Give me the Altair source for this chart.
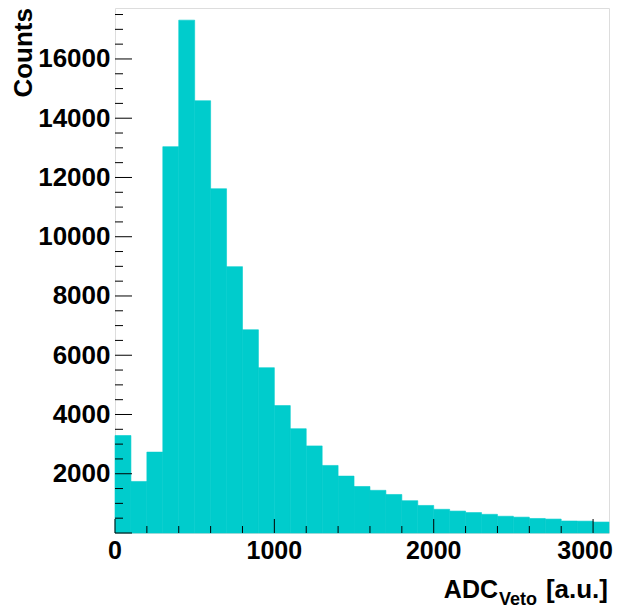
import altair as alt
import pandas as pd

# Histogram contents (bin width 100, ADC 0..3100)
bin_edges = list(range(0, 3200, 100))
counts = [3290, 1740, 2730, 13040, 17310, 14590, 11620, 8990, 6860, 5580,
          4300, 3520, 2940, 2280, 1920, 1570, 1440, 1300, 1090, 930,
          800, 740, 690, 630, 565, 535, 490, 470, 405, 400, 370]

x_labels = [0, 1000, 2000, 3000]
y_labels = [2000, 4000, 6000, 8000, 10000, 12000, 14000, 16000]
x_minor = [v for v in range(200, 3100, 200) if v % 1000 != 0]
y_minor = [v for v in range(500, 17600, 500) if v % 2000 != 0]

W, H = 494, 525
XDOM = [0, 3100]
YDOM = [0, 17720]
FONT = "Liberation Sans"
CYAN = "#00CCCC"

df = pd.DataFrame({"lo": bin_edges[:-1], "hi": bin_edges[1:], "n": counts})

xs = alt.Scale(domain=XDOM, nice=False, zero=False)
ys = alt.Scale(domain=YDOM, nice=False, zero=False)

bars = alt.Chart(df).mark_rect(color=CYAN, stroke=CYAN, strokeWidth=0.6).encode(
    x=alt.X("lo:Q", scale=xs, axis=None),
    x2="hi:Q",
    y=alt.Y("n:Q", scale=ys,
            axis=alt.Axis(values=y_labels, ticks=False, domain=False, grid=False,
                          format="d",
                          labelFont=FONT, labelFontWeight="bold", labelFontSize=26,
                          labelColor="black", labelPadding=5, labelFlush=False,
                          title=None)),
    y2=alt.datum(0),
)

def yticks(vals, length):
    return alt.Chart(pd.DataFrame({"v": vals})).mark_rule(color="black", strokeWidth=1).encode(
        y=alt.Y("v:Q", scale=ys), x=alt.value(0), x2=alt.value(length))

def xticks(vals, length):
    return alt.Chart(pd.DataFrame({"v": vals})).mark_rule(color="black", strokeWidth=1).encode(
        x=alt.X("v:Q", scale=xs), y=alt.value(H), y2=alt.value(H - length))

ytick_major = yticks([0] + y_labels, 17)
ytick_minor = yticks(y_minor, 8)
xtick_major = xticks(x_labels, 14)
xtick_minor = xticks(x_minor, 7)

# x tick labels as text (last one nudged left so it stays inside the page)
def xlabels(vals, dx):
    return alt.Chart(pd.DataFrame({"v": vals})).mark_text(
        font=FONT, fontWeight="bold", fontSize=25, align="center", baseline="top",
        color="black", dx=dx).encode(
        x=alt.X("v:Q", scale=xs), y=alt.value(H + 6), text=alt.Text("v:Q", format="d"))

xl_main = xlabels(x_labels[:-1], 0)
xl_last = xlabels(x_labels[-1:], -8)

title_df = pd.DataFrame({"t": ["x"]})
t_adc = alt.Chart(title_df).mark_text(text="ADC", font=FONT, fontWeight="bold", fontSize=25,
                                      align="right", baseline="alphabetic", color="black").encode(
    x=alt.value(383), y=alt.value(590))
t_veto = alt.Chart(title_df).mark_text(text="Veto", font=FONT, fontWeight="bold", fontSize=18,
                                       align="left", baseline="alphabetic", color="black").encode(
    x=alt.value(384), y=alt.value(597))
t_au = alt.Chart(title_df).mark_text(text="[a.u.]", font=FONT, fontWeight="bold", fontSize=26,
                                     align="right", baseline="alphabetic", color="black").encode(
    x=alt.value(493), y=alt.value(590))
t_counts = alt.Chart(title_df).mark_text(text="Counts", font=FONT, fontWeight="bold", fontSize=26,
                                         align="right", baseline="alphabetic", angle=270,
                                         color="black").encode(
    x=alt.value(-83), y=alt.value(0))

chart = alt.layer(bars, ytick_major, ytick_minor, xtick_major, xtick_minor,
                  xl_main, xl_last, t_adc, t_veto, t_au, t_counts).properties(
    width=W, height=H,
    padding={"left": 107, "top": 0, "right": 5, "bottom": 75},
    autosize=alt.AutoSizeParams(type="none"),
).configure_view(stroke="black", strokeWidth=1.5).configure(background="white")

chart.save("out.html", embed_options={"renderer": "svg", "actions": False})
